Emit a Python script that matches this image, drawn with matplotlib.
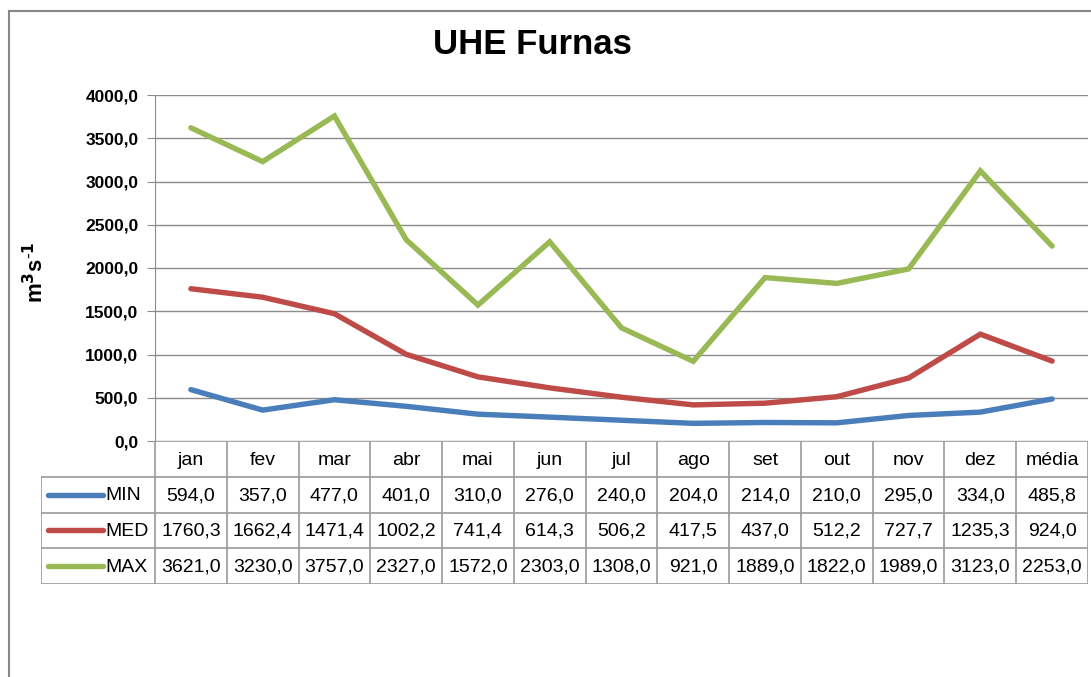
import matplotlib
matplotlib.use("Agg")
import matplotlib.pyplot as plt
from matplotlib.lines import Line2D

categories = ["jan", "fev", "mar", "abr", "mai", "jun", "jul", "ago", "set", "out", "nov", "dez", "média"]
series_names = ["MIN", "MED", "MAX"]
min_vals = [594.0, 357.0, 477.0, 401.0, 310.0, 276.0, 240.0, 204.0, 214.0, 210.0, 295.0, 334.0, 485.8]
med_vals = [1760.3, 1662.4, 1471.4, 1002.2, 741.4, 614.3, 506.2, 417.5, 437.0, 512.2, 727.7, 1235.3, 924.0]
max_vals = [3621.0, 3230.0, 3757.0, 2327.0, 1572.0, 2303.0, 1308.0, 921.0, 1889.0, 1822.0, 1989.0, 3123.0, 2253.0]
colors = ["#4A7EBB", "#BE4B48", "#98B954"]
yticks = [0, 500, 1000, 1500, 2000, 2500, 3000, 3500, 4000]

plt.rcParams['font.family'] = ['Liberation Sans', 'DejaVu Sans']

W, H = 1091, 677
fig = plt.figure(figsize=(W / 100, H / 100), dpi=100)

def fx(px):
    return px / W

def fy(py):
    return 1 - py / H

# outer frame
fig.add_artist(Line2D([fx(9), fx(9)], [fy(11), 0], color="#878787", lw=1.5, transform=fig.transFigure))
fig.add_artist(Line2D([fx(9), 1], [fy(11), fy(11)], color="#878787", lw=1.5, transform=fig.transFigure))

L, R, T, B = 155, 1088, 95, 441
ax = fig.add_axes([fx(L), fy(B), fx(R) - fx(L), fy(T) - fy(B)])
n = len(categories)
xs = [i + 0.5 for i in range(n)]
all_vals = [min_vals, med_vals, max_vals]
for vals, c in zip(all_vals, colors):
    ax.plot(xs, vals, color=c, lw=3.9, solid_capstyle="round", solid_joinstyle="miter", zorder=3)
ax.set_xlim(0, n)
ax.set_ylim(0, 4000)
ax.set_yticks(yticks)
ax.set_yticklabels([f"{v:.1f}".replace(".", ",") for v in yticks], fontsize=12.5, fontweight="bold")
ax.yaxis.grid(True, color="#8C8C8C", lw=1)
ax.set_axisbelow(True)
ax.set_xticks([])
for s in ["top", "right", "bottom"]:
    ax.spines[s].set_visible(False)
ax.spines["left"].set_color("#8C8C8C")
ax.tick_params(axis="y", length=6, color="#8C8C8C", pad=6)
ax.patch.set_alpha(0)

# title and y label
fig.text(fx(532), fy(45), "UHE Furnas", ha="center", va="center", fontsize=25, fontweight="bold")
fig.text(fx(36), fy(272), "m$\\mathbf{^3}$s$\\mathbf{^{\\text{-}1}}$", ha="center", va="center", rotation=90,
         fontsize=16, fontweight="bold")

# data table
TL = 41
TB = 584
tax = fig.add_axes([fx(TL), fy(TB), fx(R) - fx(TL), fy(B) - fy(TB)])
unit = (R - L) / n
x0 = -(L - TL) / unit
tax.set_xlim(x0, n)
tax.set_ylim(4, 0)
tax.axis("off")
gc = "#9A9A9A"
tax.plot([0, n], [0, 0], color=gc, lw=1.2)
for r in [1, 2, 3, 4]:
    tax.plot([x0, n], [r, r], color=gc, lw=1.2)
tax.plot([x0, x0], [1, 4], color=gc, lw=1.2)
for i in range(n + 1):
    tax.plot([i, i], [0, 4], color=gc, lw=1.2)
fs = 14
for i, cat in enumerate(categories):
    tax.text(i + 0.5, 0.55, cat, ha="center", va="center", fontsize=fs)
for r, (name, vals, c) in enumerate(zip(series_names, all_vals, colors)):
    y = r + 1.5
    tax.plot([x0 + 0.1, x0 + 0.86], [y, y], color=c, lw=3.9, solid_capstyle="round")
    tax.text(x0 + 0.9, y + 0.03, name, ha="left", va="center", fontsize=fs)
    for i, v in enumerate(vals):
        tax.text(i + 0.5, y + 0.03, f"{v:.1f}".replace(".", ","), ha="center", va="center", fontsize=fs)

fig.savefig("out.png", dpi=100)
